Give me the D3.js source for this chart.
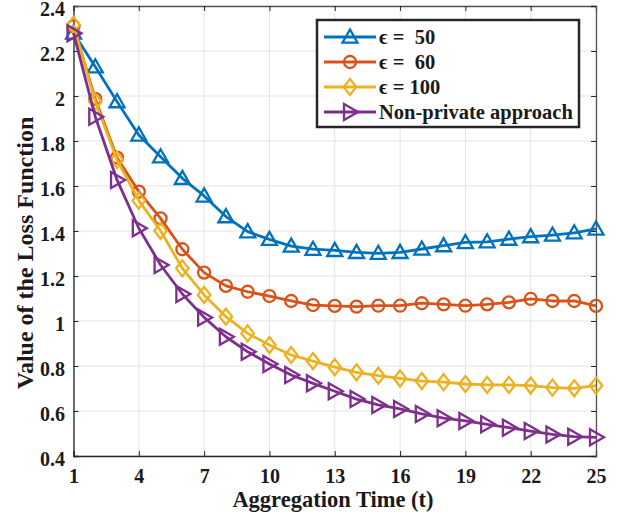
<!DOCTYPE html>
<html><head><meta charset="utf-8">
<script src="https://cdn.jsdelivr.net/npm/d3@7"></script>
<style>body{margin:0;background:#fff}svg{display:block}</style>
</head><body>
<svg id="chart" width="621" height="523"></svg>
<script>
const times = d3.range(1, 26);
const xTicks = [1,4,7,10,13,16,19,22,25];
const yTicks = [0.4,0.6,0.8,1,1.2,1.4,1.6,1.8,2,2.2,2.4];
const seriesNames = ["\u03F5 =  50", "\u03F5 =  60", "\u03F5 = 100", "Non-private approach"];
const colors = ["#0072BD", "#D95319", "#EDB120", "#7E2F8E"];
const markers = ["up", "circle", "diamond", "right"];
const eps50 = [2.28,2.13,1.975,1.827,1.730,1.634,1.556,1.464,1.397,1.363,1.333,1.319,1.314,1.305,1.301,1.305,1.320,1.335,1.349,1.352,1.364,1.375,1.382,1.392,1.409];
const eps60 = [2.31,1.987,1.726,1.575,1.456,1.319,1.215,1.156,1.130,1.111,1.089,1.071,1.067,1.064,1.068,1.068,1.079,1.074,1.068,1.074,1.083,1.098,1.089,1.089,1.067];
const eps100 = [2.316,1.975,1.716,1.535,1.401,1.234,1.116,1.019,0.945,0.893,0.849,0.822,0.795,0.772,0.757,0.745,0.733,0.728,0.720,0.716,0.716,0.713,0.704,0.701,0.713];
const nonPrivate = [2.279,1.908,1.627,1.412,1.249,1.120,1.016,0.930,0.863,0.809,0.760,0.723,0.688,0.653,0.627,0.609,0.587,0.568,0.556,0.541,0.526,0.511,0.496,0.486,0.483];
const allSeries = [eps50, eps60, eps100, nonPrivate];

const svg = d3.select("#chart");
const L = 73.5, R = 596, T = 6, B = 456;
const x = d3.scaleLinear().domain([1,25]).range([L,R]);
const y = d3.scaleLinear().domain([0.4,2.4]).range([B,T]);
const font = "'Liberation Serif', 'Times New Roman', serif";

// grid
const g = svg.append("g");
g.selectAll(".gx").data(xTicks).join("line")
  .attr("x1", d=>x(d)).attr("x2", d=>x(d)).attr("y1", T).attr("y2", B)
  .attr("stroke", "#e3e3e3").attr("stroke-width", 1);
g.selectAll(".gy").data(yTicks).join("line")
  .attr("y1", d=>y(d)).attr("y2", d=>y(d)).attr("x1", L).attr("x2", R)
  .attr("stroke", "#e3e3e3").attr("stroke-width", 1);

// axes
const xAxis = d3.axisBottom(x).tickValues(xTicks).tickSize(-5).tickPadding(13).tickFormat(d3.format("d"));
const yAxis = d3.axisLeft(y).tickValues(yTicks).tickSize(-5).tickPadding(8.5).tickFormat(d=>String(+d.toFixed(1)));
const xa = svg.append("g").attr("transform", `translate(0,${B})`).call(xAxis);
const ya = svg.append("g").attr("transform", `translate(${L},0)`).call(yAxis);
const xt = svg.append("g").attr("transform", `translate(0,${T})`).call(d3.axisTop(x).tickValues(xTicks).tickSize(-5).tickFormat(""));
const yr = svg.append("g").attr("transform", `translate(${R},0)`).call(d3.axisRight(y).tickValues(yTicks).tickSize(-5).tickFormat(""));
[xa, ya, xt, yr].forEach(a => {
  a.select(".domain").attr("stroke", "#262626").attr("stroke-width", 1.3);
  a.selectAll(".tick line").attr("stroke", "#262626").attr("stroke-width", 1);
  a.selectAll("text").attr("font-family", font).attr("font-weight", "bold").attr("font-size", 20).attr("fill", "#1a1a1a");
});
ya.selectAll("text").attr("dy", "0.45em");
xt.select(".domain").attr("stroke", "#555");
yr.select(".domain").attr("stroke", "#555");

// marker paths
function markerPath(type, s) {
  const h = s/2;
  if (type === "up") return `M0,${-h}L${h},${h*0.75}L${-h},${h*0.75}Z`;
  if (type === "right") return `M${h},0L${-h*0.75},${h}L${-h*0.75},${-h}Z`;
  if (type === "diamond") return `M0,${-h}L${h*0.78},0L0,${h}L${-h*0.78},0Z`;
  return null;
}
const mSize = {up: 15, right: 16, diamond: 16};

const line = d3.line().x((d,i)=>x(times[i])).y(d=>y(d));
allSeries.forEach((vals, k) => {
  const sg = svg.append("g");
  sg.append("path").datum(vals).attr("d", line).attr("fill", "none")
    .attr("stroke", colors[k]).attr("stroke-width", 2.8).attr("stroke-linejoin", "round");
  vals.forEach((v, i) => {
    if (markers[k] === "circle") {
      sg.append("circle").attr("cx", x(times[i])).attr("cy", y(v)).attr("r", 6)
        .attr("fill", "none").attr("stroke", colors[k]).attr("stroke-width", 2.3);
    } else {
      sg.append("path").attr("d", markerPath(markers[k], mSize[markers[k]]))
        .attr("transform", `translate(${x(times[i])},${y(v)})`)
        .attr("fill", "none").attr("stroke", colors[k]).attr("stroke-width", 2.3).attr("stroke-linejoin", "miter");
    }
  });
});

// labels
svg.append("text").attr("x", 333).attr("y", 507).attr("text-anchor", "middle")
  .attr("font-family", font).attr("font-weight", "bold").attr("font-size", 22.5).attr("fill", "#1a1a1a")
  .text("Aggregation Time (t)");
svg.append("text").attr("transform", `translate(33,253) rotate(-90)`).attr("text-anchor", "middle")
  .attr("font-family", font).attr("font-weight", "bold").attr("font-size", 24).attr("fill", "#1a1a1a")
  .text("Value of the Loss Function");

// legend
const lg = svg.append("g");
lg.append("rect").attr("x", 317).attr("y", 20).attr("width", 262).attr("height", 107)
  .attr("fill", "#fff").attr("stroke", "#262626").attr("stroke-width", 2.5);
seriesNames.forEach((name, k) => {
  const yy = 37 + k*25;
  lg.append("line").attr("x1", 324).attr("x2", 376).attr("y1", yy).attr("y2", yy)
    .attr("stroke", colors[k]).attr("stroke-width", 2.8);
  if (markers[k] === "circle") {
    lg.append("circle").attr("cx", 350).attr("cy", yy).attr("r", 6).attr("fill", "none")
      .attr("stroke", colors[k]).attr("stroke-width", 2.3);
  } else {
    lg.append("path").attr("d", markerPath(markers[k], mSize[markers[k]])).attr("transform", `translate(350,${yy})`)
      .attr("fill", "none").attr("stroke", colors[k]).attr("stroke-width", 2.3);
  }
  lg.append("text").attr("x", 379).attr("y", yy).attr("dy", "0.36em")
    .attr("font-family", font).attr("font-weight", "bold").attr("font-size", 20.5).attr("fill", "#1a1a1a")
    .attr("xml:space", "preserve").style("white-space", "pre")
    .text(name);
});
</script>
</body></html>
